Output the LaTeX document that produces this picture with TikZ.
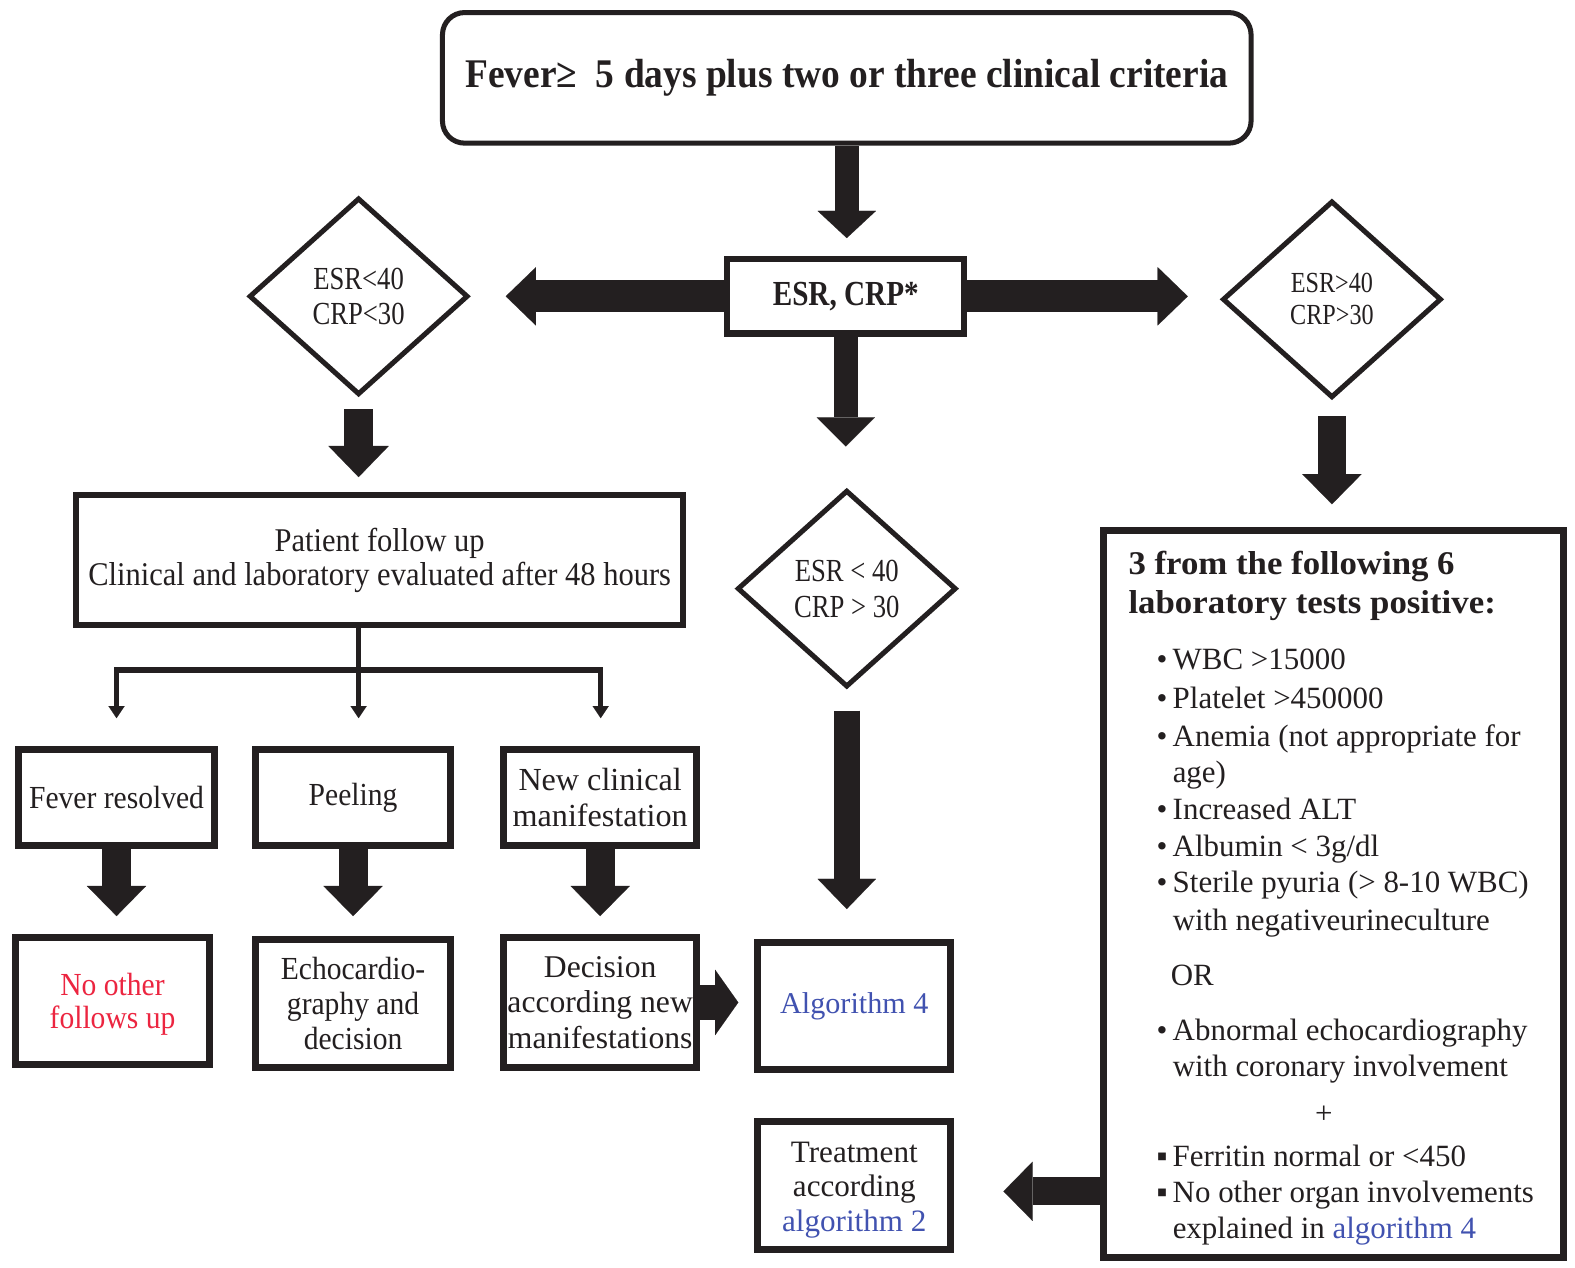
\documentclass[tikz,border=0pt]{standalone}
\usepackage{fontspec}
\setmainfont{Liberation Serif}
\newfontfamily\cond{Liberation Serif}[FakeStretch=0.83]
\newfontfamily\semi{Liberation Serif}[FakeStretch=0.92]
\newfontfamily\wide{Liberation Serif}[FakeStretch=1.05]
\usetikzlibrary{shapes.geometric,arrows.meta,calc}
\definecolor{ink}{HTML}{231F20}
\definecolor{algblue}{HTML}{4152B0}
\definecolor{nored}{HTML}{EC2540}
\newcommand{\bul}{\makebox[16pt][l]{•}}
\newcommand{\sqb}{\makebox[16pt][l]{▪}}
\begin{document}
\begin{tikzpicture}[x=1pt,y=-1pt,
  every node/.append style={text=ink},
  box/.style={draw=ink, line width=6pt, inner sep=0pt, align=center},
  sbox/.style={box, line width=7pt},
  dia/.style={diamond, draw=ink, line width=5pt, inner sep=0pt, align=center, minimum width=218pt, minimum height=196pt},
  fat/.style n args={3}{draw=ink, line width=#1, -{Triangle[width=#2, length=#3, line width=0.1pt]}},
  tree/.style={draw=ink, line width=5pt},
  treetip/.style={tree, -{Triangle[width=16pt, length=12pt, line width=0.1pt]}},
  body/.style={anchor=base west, font=\fontsize{30.8}{35}\selectfont},
  head/.style={anchor=base west, font=\wide\bfseries\fontsize{33}{37}\selectfont}
]
\fill[white] (0,0) rectangle (1568,1262);
\useasboundingbox (0,0) rectangle (1568,1262);

% top
\node[box, line width=5pt, rounded corners=22pt, minimum width=805pt, minimum height=130pt,
  font=\semi\bfseries\fontsize{40.5}{44}\selectfont] (top) at (843,77.5)
  {Fever≥\ \ 5 days plus two or three clinical criteria};
\node[box, minimum width=236pt, minimum height=74pt,
  font=\cond\bfseries\fontsize{35}{40}\selectfont] (esr) at (842,295) {ESR, CRP*};

% diamonds
\node[dia, font=\cond\fontsize{32}{35}\selectfont] (dl) at (357,295) {ESR<40\\CRP<30};
\node[dia, font=\cond\fontsize{29}{32}\selectfont] (dr) at (1326,298) {ESR>40\\CRP>30};
\node[dia, font=\cond\fontsize{32}{36}\selectfont] (dm) at (843,586) {ESR < 40\\CRP > 30};

% patient follow up
\node[box, minimum width=604pt, minimum height=129pt,
  font=\semi\fontsize{33}{34}\selectfont] (pf) at (378,557.5)
  {Patient follow up\\Clinical and laboratory evaluated after 48 hours};

% small boxes
\node[sbox, minimum width=195pt, minimum height=95pt, font=\semi\fontsize{32}{35}\selectfont] (fr) at (116,794) {Fever resolved};
\node[sbox, minimum width=194pt, minimum height=95pt, font=\semi\fontsize{32}{35}\selectfont] (pe) at (351.5,794) {Peeling};
\node[sbox, minimum width=192pt, minimum height=95pt, font=\fontsize{32}{35}\selectfont] (nc) at (597.5,794) {New clinical\\manifestation};

\node[sbox, minimum width=193pt, minimum height=126pt, text=nored, font=\semi\fontsize{32}{33}\selectfont] (no) at (112,996.5) {\rule{0pt}{28pt}No other\\follows up};
\node[sbox, minimum width=194pt, minimum height=127pt, font=\semi\fontsize{32}{34.5}\selectfont] (ec) at (351.5,999) {Echocardio-\\graphy and\\decision};
\node[sbox, minimum width=192pt, minimum height=129pt, font=\fontsize{31.5}{35.5}\selectfont] (dc) at (597.5,998) {Decision\\according new\\manifestations};
\node[sbox, minimum width=192pt, minimum height=126pt, text=algblue, font=\fontsize{30}{34}\selectfont] (a4) at (850.5,1001.5) {Algorithm 4};
\node[sbox, minimum width=192pt, minimum height=127pt, font=\fontsize{31}{34.5}\selectfont] (tr) at (850.5,1180) {\rule{0pt}{30pt}Treatment\\according\\\textcolor{algblue}{algorithm 2}};

% right box
\node[sbox, minimum width=458pt, minimum height=723pt] (rb) at (1327.5,890) {};
\node[head] (h1) at (1120,572) {3 from the following 6};
\node[head] (h2) at (1120,611) {laboratory tests positive:};
\node[body] (l1) at (1148,667) {\bul WBC >15000};
\node[body] (l2) at (1148,705) {\bul Platelet >450000};
\node[body] (l3) at (1148,743) {\bul Anemia (not appropriate for};
\node[body] (l4) at (1164,779) {age)};
\node[body] (l5) at (1148,816) {\bul Increased ALT};
\node[body] (l6) at (1148,853) {\bul Albumin < 3g/dl};
\node[body] (l7) at (1148,889) {\bul Sterile pyuria (> 8-10 WBC)};
\node[body] (l8) at (1164,926) {with negativeurineculture};
\node[body] (l9) at (1162,981) {OR};
\node[body] (l10) at (1148,1036) {\bul Abnormal echocardiography};
\node[body] (l11) at (1164,1072) {with coronary involvement};
\node[body, anchor=base] (l12) at (1318,1118) {+};
\node[body] (l13) at (1148,1161) {\sqb Ferritin normal or <450};
\node[body] (l14) at (1148,1197) {\sqb No other organ involvements};
\node[body] (l15) at (1164,1233) {explained in \textcolor{algblue}{algorithm 4}};

% thick arrows
\draw[fat={24pt}{58pt}{27pt}, shorten >=18pt] (top.south) -- (top.south |- esr.north);
\draw[fat={32pt}{58pt}{30pt}, shorten >=35pt] (esr.west) -- (esr.west -| dl.east);
\draw[fat={32pt}{58pt}{30pt}, shorten >=32pt] (esr.east) -- (esr.east -| dr.west);
\draw[fat={24pt}{58pt}{29pt}, shorten >=41pt] (esr.south) -- (esr.south |- dm.north);
\draw[fat={29pt}{60pt}{31pt}, shorten <=12pt, shorten >=15pt] (dl.south) -- (dl.south |- pf.north);
\draw[fat={28pt}{59pt}{30pt}, shorten <=16pt, shorten >=23pt] (dr.south) -- (dr.south |- rb.north);
\draw[fat={26pt}{58pt}{30pt}, shorten <=21pt, shorten >=30pt] (dm.south) -- (dm.south |- a4.north);
\draw[fat={29pt}{59pt}{30pt}, shorten >=18pt] (fr.south) -- (fr.south |- no.north);
\draw[fat={29pt}{59pt}{30pt}, shorten >=20pt] (pe.south) -- (pe.south |- ec.north);
\draw[fat={29pt}{59pt}{30pt}, shorten >=18pt] (nc.south) -- (nc.south |- dc.north);
\draw[fat={35pt}{65pt}{23pt}, shorten >=16pt] (dc.east) -- (dc.east -| a4.west);
\draw[fat={28pt}{59pt}{29pt}, shorten >=49pt] ($(rb.west |- tr.east)+(0,6)$) -- ($(tr.east)+(0,6)$);

% tree
\coordinate (j) at (357,667);
\coordinate (tl) at (116,715);
\coordinate (tm) at (357,715);
\coordinate (tr2) at (598,715);
\draw[treetip] (pf.south -| j) -- (tm);
\draw[treetip] (j) -| (tl);
\draw[treetip] (j) -| (tr2);
\end{tikzpicture}
\end{document}
